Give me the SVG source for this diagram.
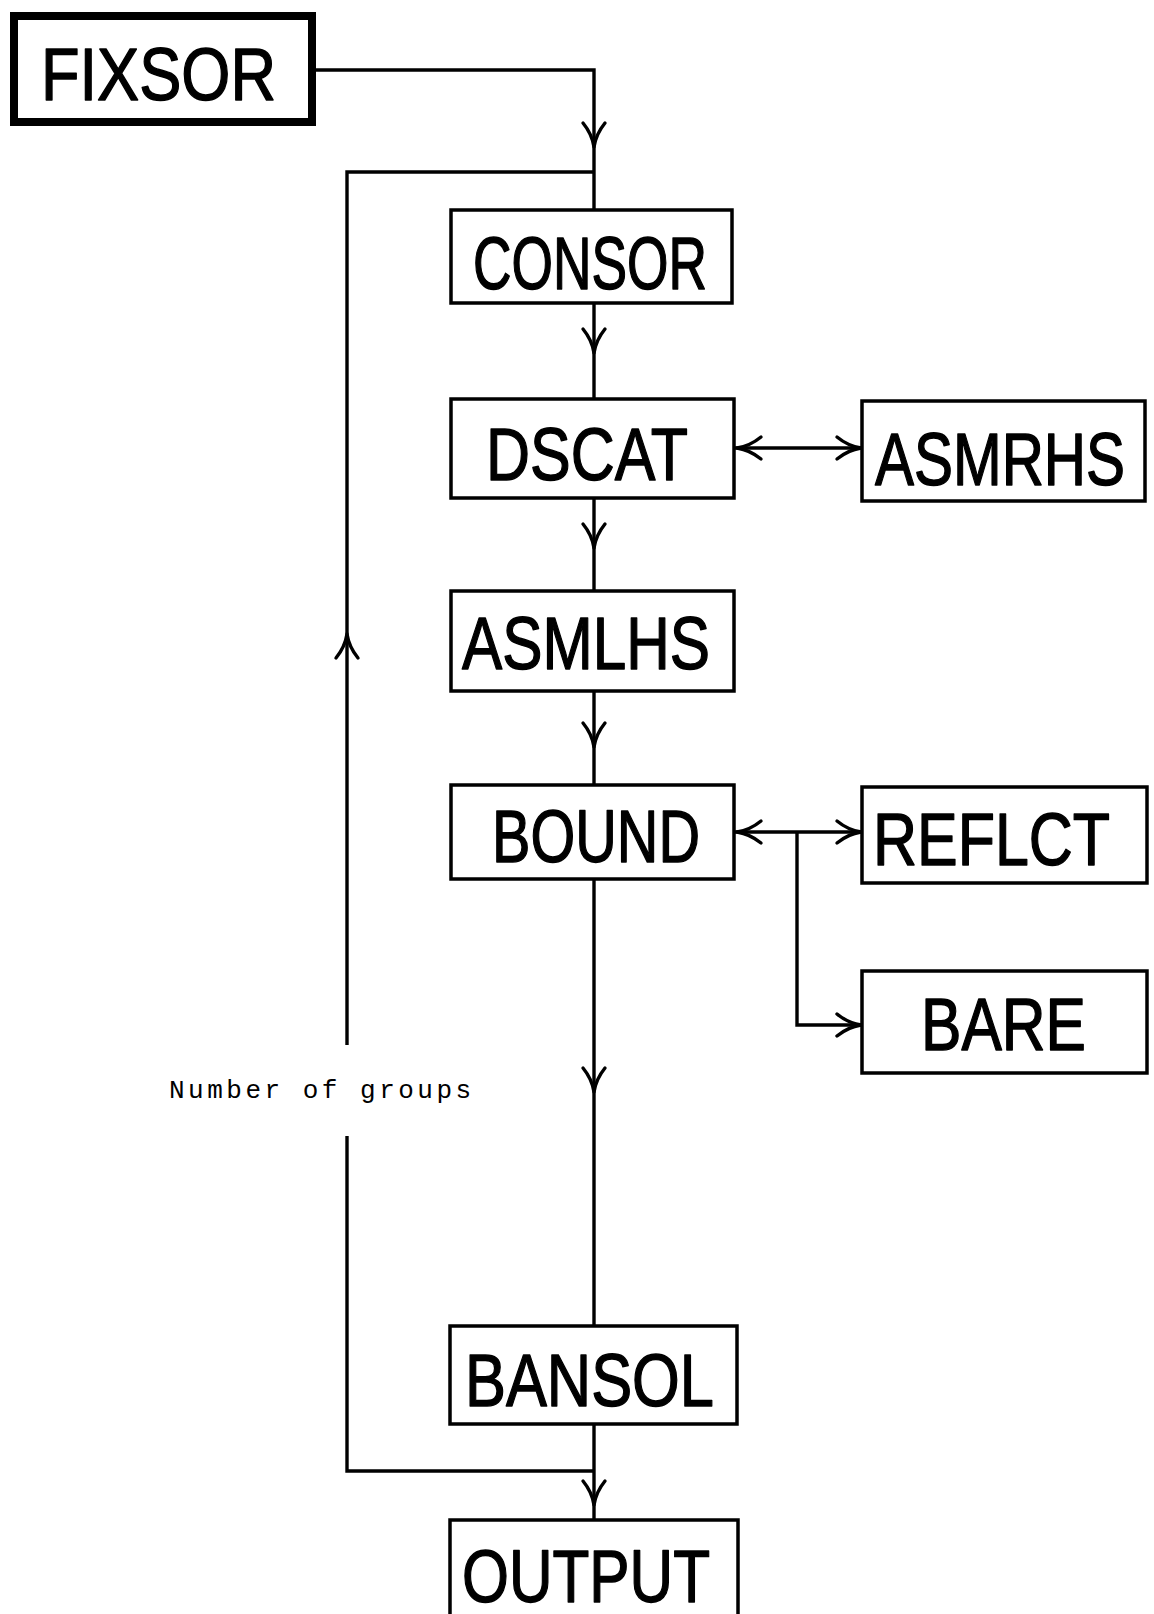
<svg xmlns="http://www.w3.org/2000/svg" xmlns:xlink="http://www.w3.org/1999/xlink" width="1154" height="1614" viewBox="0 0 1154 1614">
<style>
.box{fill:#fff;stroke:#000;stroke-width:3.5}
.thick{stroke-width:8}
.lbl{font-family:"Liberation Sans","DejaVu Sans",sans-serif;font-size:75px;fill:#000;stroke:#000;stroke-width:1.4;stroke-linejoin:round}
.ln{fill:none;stroke:#000;stroke-width:3.4}
.note{font-family:"Liberation Mono","DejaVu Sans Mono",monospace;font-size:26px;letter-spacing:3.5px;fill:#000}
</style>
<defs>
<path id="ah" d="M -11 -24 Q -2 -13 0 0 M 11 -24 Q 2 -13 0 0" fill="none" stroke="#000" stroke-width="3.4" stroke-linecap="round"/>
</defs>
<rect width="1154" height="1614" fill="#fff"/>
<g id="connectors">
<path class="ln" d="M316 70 H594 V210"/>
<path class="ln" d="M594 172 H347 V1045 M347 1136 V1471 H594"/>
<path class="ln" d="M594 303 V399"/>
<path class="ln" d="M594 498 V591"/>
<path class="ln" d="M594 691 V785"/>
<path class="ln" d="M594 879 V1326"/>
<path class="ln" d="M594 1424 V1520"/>
<path class="ln" d="M734 448 H862"/>
<path class="ln" d="M734 832 H862 M797 832 V1025 H862"/>
<use xlink:href="#ah" transform="translate(594,147)"/>
<use xlink:href="#ah" transform="translate(594,353)"/>
<use xlink:href="#ah" transform="translate(594,548)"/>
<use xlink:href="#ah" transform="translate(594,747)"/>
<use xlink:href="#ah" transform="translate(594,1092)"/>
<use xlink:href="#ah" transform="translate(594,1505)"/>
<use xlink:href="#ah" transform="translate(347,634) rotate(180)"/>
<use xlink:href="#ah" transform="translate(737,448) rotate(90)"/>
<use xlink:href="#ah" transform="translate(861,448) rotate(-90)"/>
<use xlink:href="#ah" transform="translate(737,832) rotate(90)"/>
<use xlink:href="#ah" transform="translate(861,832) rotate(-90)"/>
<use xlink:href="#ah" transform="translate(861,1025) rotate(-90)"/>
</g>
<g id="FIXSOR"><rect class="box thick" x="14" y="16" width="298" height="106"/><text class="lbl" x="41" y="100" textLength="235" lengthAdjust="spacingAndGlyphs">FIXSOR</text></g>
<g id="CONSOR"><rect class="box" x="451" y="210" width="281" height="93"/><text class="lbl" x="473" y="289" textLength="234" lengthAdjust="spacingAndGlyphs">CONSOR</text></g>
<g id="DSCAT"><rect class="box" x="451" y="399" width="283" height="99"/><text class="lbl" x="486" y="480" textLength="202" lengthAdjust="spacingAndGlyphs">DSCAT</text></g>
<g id="ASMRHS"><rect class="box" x="862" y="401" width="283" height="100"/><text class="lbl" x="875" y="485" textLength="250" lengthAdjust="spacingAndGlyphs">ASMRHS</text></g>
<g id="ASMLHS"><rect class="box" x="451" y="591" width="283" height="100"/><text class="lbl" x="462" y="669" textLength="248" lengthAdjust="spacingAndGlyphs">ASMLHS</text></g>
<g id="BOUND"><rect class="box" x="451" y="785" width="283" height="94"/><text class="lbl" x="492" y="862" textLength="208" lengthAdjust="spacingAndGlyphs">BOUND</text></g>
<g id="REFLCT"><rect class="box" x="862" y="787" width="285" height="96"/><text class="lbl" x="873" y="865" textLength="237" lengthAdjust="spacingAndGlyphs">REFLCT</text></g>
<g id="BARE"><rect class="box" x="862" y="971" width="285" height="102"/><text class="lbl" x="921" y="1050" textLength="165" lengthAdjust="spacingAndGlyphs">BARE</text></g>
<g id="BANSOL"><rect class="box" x="450" y="1326" width="287" height="98"/><text class="lbl" x="465" y="1406" textLength="249" lengthAdjust="spacingAndGlyphs">BANSOL</text></g>
<g id="OUTPUT"><rect class="box" x="450" y="1520" width="288" height="110"/><text class="lbl" x="462" y="1602" textLength="248" lengthAdjust="spacingAndGlyphs">OUTPUT</text></g>
<g id="note"><text class="note" x="169" y="1098">Number of groups</text></g>
</svg>
